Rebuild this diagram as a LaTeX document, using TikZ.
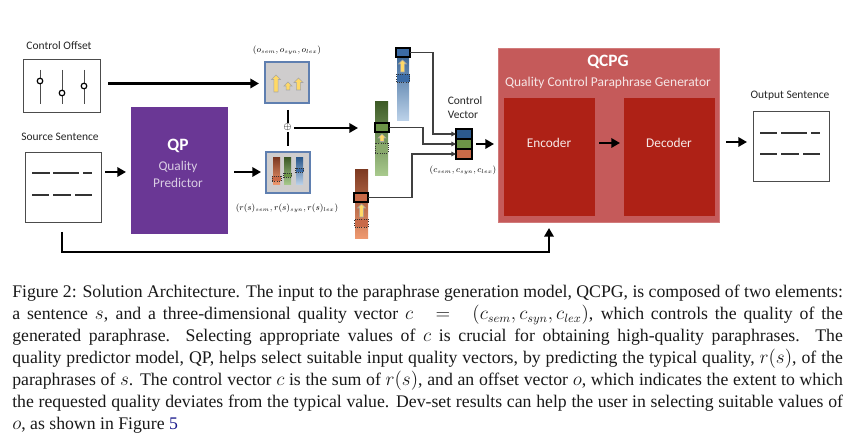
\documentclass[tikz,border=0pt]{standalone}
\usepackage{fontspec}
\setmainfont{Liberation Serif}
\newfontfamily\lab{Carlito}
\usetikzlibrary{arrows.meta}
\definecolor{qpfill}{HTML}{6A3795}
\definecolor{qcfill}{HTML}{C55A5A}
\definecolor{enfill}{HTML}{AE2116}
\definecolor{grayfill}{HTML}{CFCDCD}
\definecolor{grayedge}{HTML}{5F7FB0}
\definecolor{bluedk}{HTML}{2C5A8E}
\definecolor{bluelt}{HTML}{BDD3EA}
\definecolor{greendk}{HTML}{3E5B27}
\definecolor{greenlt}{HTML}{A9CB8E}
\definecolor{reddk}{HTML}{7E3A22}
\definecolor{redlt}{HTML}{F09A70}
\definecolor{bluemid}{HTML}{3B6BA5}
\definecolor{greenmid}{HTML}{6C9447}
\definecolor{redmid}{HTML}{C96A48}
\definecolor{yarrow}{HTML}{FFD966}
\definecolor{linkblue}{HTML}{1A1A8C}
\newcommand{\bx}[6]{%
  \pgfmathsetmacro{\cxx}{(#3+#5)/2}\pgfmathsetmacro{\cyy}{(#4+#6)/2}%
  \pgfmathsetmacro{\www}{(#5-#3)*0.75}\pgfmathsetmacro{\hhh}{(#6-#4)*0.75}%
  \node[rectangle,inner sep=0pt,outer sep=0pt,minimum width=\www pt,minimum height=\hhh pt,#2] (#1) at (\cxx,\cyy) {};}
\tikzset{
  flow/.style={line width=1.7pt,-{Triangle[length=6.5pt,width=7pt]}},
  plainbar/.style={line width=1.7pt},
  link/.style={draw=black!75,line width=0.8pt,-{Triangle[length=3.5pt,width=3.5pt]}},
  sentbox/.style={draw=black!70,fill=white,line width=0.7pt},
  dashline/.style={line width=0.8pt,draw=black!80},
  slider/.style={line width=0.7pt,draw=black!70},
  knob/.style={circle,draw=black,fill=white,line width=0.9pt,inner sep=0pt,minimum size=4.2pt},
  graybox/.style={draw=grayedge,fill=grayfill,line width=0.9pt},
  thickbox/.style={draw=black,line width=1.5pt},
  dotbox/.style={draw=black!80,densely dotted,line width=0.7pt},
  uparrow/.style={draw=black!35,fill=yarrow,line width=0.4pt},
  lbl/.style={font=\lab\fontsize{8.6}{10}\selectfont,inner sep=0pt,text=black!85},
  mth/.style={scale=0.82,inner sep=0pt,text=black,font=\fontsize{7.6}{9}\selectfont},
  capt/.style={anchor=base west,inner sep=0pt,font=\fontsize{13.3}{15}\selectfont,text=black!90},
}
\newcommand{\yup}[4]{% x, ytop, ybottom, half width
  \path[uparrow] (#1-#4*0.45,#3) -- (#1-#4*0.45,#2+#4) -- (#1-#4,#2+#4) -- (#1,#2) -- (#1+#4,#2+#4) -- (#1+#4*0.45,#2+#4) -- (#1+#4*0.45,#3) -- cycle;}
\newcommand{\cl}[3]{\node[capt] (#1) at (12,#2) {\hbox to 623pt{#3}};}
\begin{document}
\begin{tikzpicture}[x=0.75pt,y=-0.75pt]
\useasboundingbox (0,0) rectangle (865,445);
\fill[white] (0,0) rectangle (865,445);

% Control offset
\node[lbl] (colab) at (59,46) {Control Offset};
\bx{cobox}{sentbox}{23.5}{59}{100}{112}
\coordinate (s1t) at (40,70); \coordinate (s1b) at (40,104);
\coordinate (s2t) at (62,70); \coordinate (s2b) at (62,104);
\coordinate (s3t) at (84,70); \coordinate (s3b) at (84,104);
\draw[slider] (s1t)--(s1b); \draw[slider] (s2t)--(s2b); \draw[slider] (s3t)--(s3b);
\node[knob] (k1) at (40,81) {}; \node[knob] (k2) at (62,93) {}; \node[knob] (k3) at (84,86) {};

% Source sentence
\node[lbl] (sslab) at (60,137) {Source Sentence};
\bx{ssbox}{sentbox}{25}{152}{101}{222}
\foreach \a/\b in {32/50,53/79,83/92} \draw[dashline] (\a,173)--(\b,173);
\foreach \a/\b in {32/49,53/71,75/92} \draw[dashline] (\a,195)--(\b,195);

% QP
\bx{qp}{fill=qpfill}{130.5}{107}{228}{234}
\node[font=\lab\bfseries\fontsize{13}{15}\selectfont,text=white,inner sep=0pt] (qpt) at (178,146) {QP};
\node[text=qpfill!25!white,font=\lab\fontsize{10}{11}\selectfont,inner sep=0pt] (qpa) at (178,167) {Quality};
\node[text=qpfill!25!white,font=\lab\fontsize{10}{11}\selectfont,inner sep=0pt] (qpb) at (178,183) {Predictor};

% Gray boxes
\node[mth] (olab) at (287,50) {$(o_{sem},o_{syn},o_{lex})$};
\bx{obox}{graybox}{265}{62}{309}{103}
\yup{276}{75}{92}{4.5}
\yup{288}{82}{90}{4}
\yup{298.5}{78}{90}{4.5}
\bx{rbox}{graybox}{266}{152}{310}{193}
\bx{rb1}{top color=reddk,bottom color=redlt,draw=none}{273}{158}{280}{185}
\bx{rb2}{top color=greendk,bottom color=greenlt,draw=none}{284}{158}{291}{185}
\bx{rb3}{top color=bluedk,bottom color=bluelt,draw=none}{296}{158}{303}{185}
\bx{rd1}{dotbox,fill=redmid}{272}{176}{281}{181}
\bx{rd2}{dotbox,fill=greenmid}{283.5}{173}{291.5}{177.5}
\bx{rd3}{dotbox,fill=bluemid}{295.5}{168}{303.5}{172.5}
\node[mth] (rlab) at (287,208) {$(r(s)_{sem},r(s)_{syn},r(s)_{lex})$};

% Oplus
\node[inner sep=0pt,font=\fontsize{7}{8}\selectfont] (plus) at (287.5,127.5) {$\oplus$};
\coordinate (vt) at (288,110); \coordinate (vb) at (288,146);
\draw[plainbar] (vt)--(288,123);
\draw[plainbar] (288,132)--(vb);

% Tall bars
\bx{bluebar}{top color=bluedk,bottom color=bluelt,draw=none}{397}{48}{409}{121}
\bx{greenbar}{top color=greendk,bottom color=greenlt,draw=none}{375}{102}{388}{176}
\bx{redbar}{top color=reddk,bottom color=redlt,draw=none}{355}{170}{368}{239}
\bx{bluedot}{dotbox,fill=bluemid}{396.5}{74}{409.5}{82}
\bx{greendot}{dotbox,fill=greenmid!80!white}{375}{143}{388}{153}
\bx{reddot}{dotbox,fill=redmid}{354.5}{219}{368}{227}
\yup{402.5}{60}{72}{4}
\yup{382}{134}{141.5}{4}
\yup{361.5}{204}{217}{4}
\bx{bluesel}{thickbox,fill=bluemid}{395.5}{48}{409.5}{57}
\bx{greensel}{thickbox,fill=greenmid}{374.5}{123}{388.5}{132}
\bx{redsel}{thickbox,fill=redmid}{354}{193}{368}{202}

% Control vector
\node[lbl] (cv1) at (465,101) {Control};
\node[lbl] (cv2) at (463,115) {Vector};
\bx{cvb}{thickbox,fill=bluedk}{456}{129}{472}{139}
\bx{cvg}{thickbox,fill=greenmid}{456}{139}{472}{149}
\bx{cvr}{thickbox,fill=redmid}{456}{149}{472}{159}
\node[mth] (clab) at (463,170) {$(c_{sem},c_{syn},c_{lex})$};
\draw[link] (bluesel.east) -| (433,134) -- (456,134);
\draw[link] (greensel.east) -| (423,144) -- (456,144);
\draw[link] (redsel.east) -| (412,154) -- (456,154);

% QCPG
\bx{qcpg}{fill=qcfill,draw=qcfill!80!white,line width=0.5pt}{498}{48}{719}{222}
\node[font=\lab\bfseries\fontsize{13}{15}\selectfont,text=white,inner sep=0pt] (qct) at (608,62) {QCPG};
\node[font=\lab\fontsize{10.1}{11}\selectfont,text=white!85!qcfill,inner sep=0pt] (qcs) at (608,83) {Quality Control Paraphrase Generator};
\bx{enc}{fill=enfill}{504}{98}{595}{216}
\bx{dec}{fill=enfill}{624}{98}{715}{216}
\node[font=\lab\fontsize{10}{11}\selectfont,text=white!90!enfill,inner sep=0pt] (ent) at (549,143) {Encoder};
\node[font=\lab\fontsize{10}{11}\selectfont,text=white!90!enfill,inner sep=0pt] (det) at (669,143) {Decoder};

% Output
\node[lbl] (oslab) at (790,96) {Output Sentence};
\bx{osbox}{sentbox}{753}{111}{829}{181}
\foreach \a/\b in {760/777,781/807,811/820} \draw[dashline] (\a,133)--(\b,133);
\foreach \a/\b in {760/777,781/799,803/820} \draw[dashline] (\a,154)--(\b,154);

% Flow arrows
\coordinate (a1) at (108,83.5); \coordinate (a2) at (259,83.5);
\draw[flow] (a1)--(a2);
\coordinate (b1) at (105,172); \coordinate (b2) at (126,172);
\draw[flow] (b1)--(b2);
\coordinate (c1) at (234,172); \coordinate (c2) at (261,172);
\draw[flow] (c1)--(c2);
\coordinate (d1) at (294,128); \coordinate (d2) at (358,128);
\draw[flow] (d1)--(d2);
\coordinate (e1) at (476,144); \coordinate (e2) at (494,144);
\draw[flow] (e1)--(e2);
\coordinate (f1) at (599,143); \coordinate (f2) at (620,143);
\draw[flow] (f1)--(f2);
\coordinate (g1) at (726,142); \coordinate (g2) at (747,142);
\draw[flow] (g1)--(g2);
\coordinate (h1) at (62,232); \coordinate (h2) at (62,252); \coordinate (h3) at (549,252); \coordinate (h4) at (549,228);
\draw[flow,line join=miter] (h1)--(h2)--(h3)--(h4);

% Caption
\cl{l1}{298}{Figure 2: Solution Architecture. The input to the paraphrase generation model, QCPG, is composed of two elements:}
\cl{l2}{320}{a sentence $s$, and a three-dimensional quality vector $c\;=\;(c_{sem},c_{syn},c_{lex})$, which controls the quality of the}
\cl{l3}{342}{generated paraphrase. Selecting appropriate values of $c$ is crucial for obtaining high-quality paraphrases. The}
\cl{l4}{364}{quality predictor model, QP, helps select suitable input quality vectors, by predicting the typical quality, $r(s)$, of the}
\cl{l5}{386}{paraphrases of $s$. The control vector $c$ is the sum of $r(s)$, and an offset vector $o$, which indicates the extent to which}
\cl{l6}{408}{the requested quality deviates from the typical value. Dev-set results can help the user in selecting suitable values of}
\node[capt] (l7) at (12,430) {$o$, as shown in Figure \textcolor{linkblue}{5}};
\end{tikzpicture}
\end{document}
